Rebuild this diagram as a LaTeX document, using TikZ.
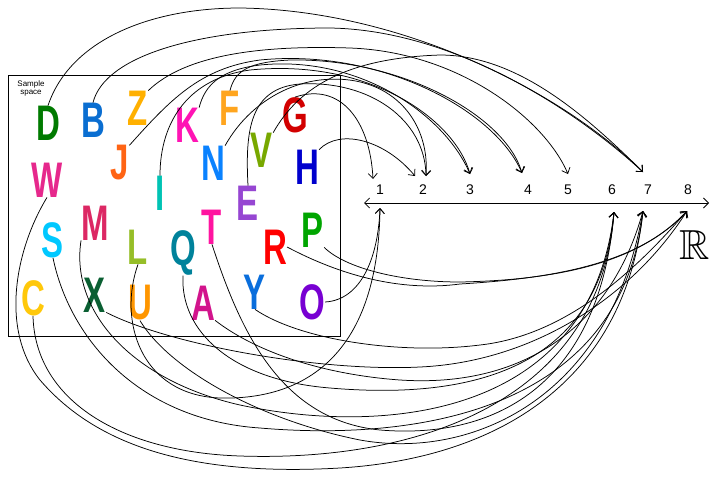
\documentclass[tikz,border=0pt]{standalone}
\usepackage{fontspec}
\usepackage{amssymb}
\setmainfont{Liberation Sans}
\usetikzlibrary{arrows.meta}

\definecolor{colD}{RGB}{0,122,0}
\definecolor{colB}{RGB}{10,110,209}
\definecolor{colZ}{RGB}{255,176,0}
\definecolor{colK}{RGB}{255,20,180}
\definecolor{colF}{RGB}{255,165,30}
\definecolor{colG}{RGB}{210,0,0}
\definecolor{colV}{RGB}{120,168,0}
\definecolor{colH}{RGB}{0,0,205}
\definecolor{colW}{RGB}{230,40,140}
\definecolor{colJ}{RGB}{255,100,20}
\definecolor{colN}{RGB}{10,130,255}
\definecolor{colI}{RGB}{0,195,180}
\definecolor{colE}{RGB}{150,70,210}
\definecolor{colM}{RGB}{220,40,100}
\definecolor{colT}{RGB}{255,20,160}
\definecolor{colP}{RGB}{0,165,0}
\definecolor{colS}{RGB}{0,200,255}
\definecolor{colL}{RGB}{150,190,40}
\definecolor{colQ}{RGB}{0,130,155}
\definecolor{colR}{RGB}{255,0,0}
\definecolor{colC}{RGB}{255,200,10}
\definecolor{colX}{RGB}{10,95,50}
\definecolor{colU}{RGB}{255,150,0}
\definecolor{colA}{RGB}{210,20,140}
\definecolor{colY}{RGB}{10,110,220}
\definecolor{colO}{RGB}{120,0,210}

\newcommand{\lett}[1]{\scalebox{0.66}[1]{#1}}

\tikzset{
  letter/.style={font=\fontsize{50}{50}\selectfont\bfseries, inner sep=0pt},
  num/.style={font=\fontsize{14}{14}\selectfont},
  map/.style={-{Straight Barb[length=5pt,width=9pt]}, line width=0.75pt},
}

\begin{document}
\begin{tikzpicture}[x=1pt,y=-1pt]
\useasboundingbox (0,0) rectangle (711,477);

% Sample space
\draw[line width=0.9pt] (8,75) rectangle (340,336);
\node[font=\fontsize{8}{8}\selectfont, align=center] (ss) at (31,88) {Sample\\space};

% Letters
\foreach \l/\x/\y in {D/48/123, B/93/120, Z/138/108, K/187/125, F/230/108, G/295/115,
  V/262/150, H/307/167, W/47/180, J/120/163, N/213/163, I/160/193, E/248/203,
  M/95/223, T/212/227, P/313/230, S/53/240, L/138/247, Q/183/253, R/275/247,
  C/33/298, X/95/295, U/140/303, A/203/303, Y/255/292, O/312/302}
  \node[letter, text=col\l] (\l) at (\x,\y) {\lett{\l}};

% Real line
\coordinate (ll) at (364,203);
\coordinate (lr) at (709,203);
\draw[{Straight Barb[length=5pt,width=10pt]}-{Straight Barb[length=5pt,width=10pt]}, line width=0.75pt] (ll) -- (lr);
\foreach \n/\x in {1/380,2/423,3/470,4/528,5/568,6/612,7/648,8/688}
  \node[num] (n\n) at (\x,190) {\n};
\node[font=\fontsize{42}{42}\selectfont] (reals) at (695,245) {$\mathbb{R}$};

% Arrow ends
\coordinate (t1) at (373,179);
\coordinate (t2a) at (415,176);
\coordinate (t2b) at (426,176);
\coordinate (t3) at (470,174);
\coordinate (t4) at (522,173);
\coordinate (t5) at (568,174);
\coordinate (t7) at (643,172);
\coordinate (b1) at (380,208);
\coordinate (b6) at (614,212);
\coordinate (b7) at (643,211);
\coordinate (b8) at (687,211);

% From above
\draw[map] (D.north) .. controls (70,40) and (150,8) .. (240,8) .. controls (400,10) and (560,90) .. (t7);
\draw[map] (B.north) .. controls (105,55) and (200,28) .. (330,28) .. controls (450,30) and (570,105) .. (t7);
\draw[map] (V.north east) .. controls (300,85) and (350,58) .. (440,55) .. controls (520,55) and (590,120) .. (t7);
\draw[map] (Z.north east) .. controls (185,55) and (260,45) .. (350,48) .. controls (460,52) and (545,120) .. (t5);
\draw[map] (J.north east) .. controls (170,100) and (200,68) .. (260,60) .. controls (380,48) and (495,110) .. (t4);
\draw[map] (F.north) .. controls (235,70) and (250,62) .. (290,60) .. controls (400,58) and (505,115) .. (t4);
\draw[map] (K.north east) .. controls (205,85) and (220,70) .. (260,65) .. controls (360,55) and (445,115) .. (t3);
\draw[map] (I.north) .. controls (160,120) and (190,78) .. (250,70) .. controls (370,58) and (455,120) .. (t3);
\draw[map] (N.north east) .. controls (245,110) and (280,85) .. (320,80) .. controls (390,72) and (430,120) .. (t2b);
\draw[map] (E.north) .. controls (245,130) and (250,88) .. (300,84) .. controls (370,80) and (425,120) .. (t2b);
\draw[map] (G.north) .. controls (340,82) and (370,120) .. (t1);
\draw[map] (H.north east) .. controls (340,128) and (385,140) .. (t2a);

% From below
\draw[map] (O.east) .. controls (360,300) and (378,260) .. (b1);
\draw[map] (L.south) .. controls (118,320) and (140,395) .. (220,398) .. controls (300,400) and (378,360) .. (b1);
\draw[map] (R.east) .. controls (340,275) and (400,292) .. (460,284) .. controls (560,278) and (640,262) .. (b8);
\draw[map] (P.south east) .. controls (345,268) and (400,282) .. (460,282) .. controls (560,280) and (640,262) .. (b8);
\draw[map] (Y.south) .. controls (300,340) and (400,355) .. (480,345) .. controls (570,335) and (640,265) .. (b8);
\draw[map] (X.south east) .. controls (170,345) and (320,372) .. (420,367) .. controls (530,362) and (630,300) .. (b8);
\draw[map] (Q.south) .. controls (180,330) and (230,380) .. (330,388) .. controls (470,400) and (600,370) .. (b6);
\draw[map] (A.south east) .. controls (260,355) and (330,375) .. (400,380) .. controls (520,388) and (610,330) .. (b7);
\draw[map] (T.south) .. controls (240,330) and (280,420) .. (380,430) .. controls (500,440) and (600,380) .. (b6);
\draw[map] (U.south) .. controls (170,370) and (260,420) .. (360,440) .. controls (470,460) and (610,400) .. (b7);
\draw[map] (M.south west) .. controls (70,310) and (130,380) .. (240,405) .. controls (380,435) and (590,420) .. (b6);
\draw[map] (S.south) .. controls (70,340) and (140,420) .. (260,428) .. controls (400,440) and (620,420) .. (b7);
\draw[map] (C.south) .. controls (35,400) and (120,452) .. (240,456) .. controls (420,462) and (600,400) .. (b6);
\draw[map] (W.south) .. controls (15,250) and (0,330) .. (40,380) .. controls (100,450) and (200,476) .. (340,468) .. controls (500,458) and (625,380) .. (b7);
\end{tikzpicture}
\end{document}
